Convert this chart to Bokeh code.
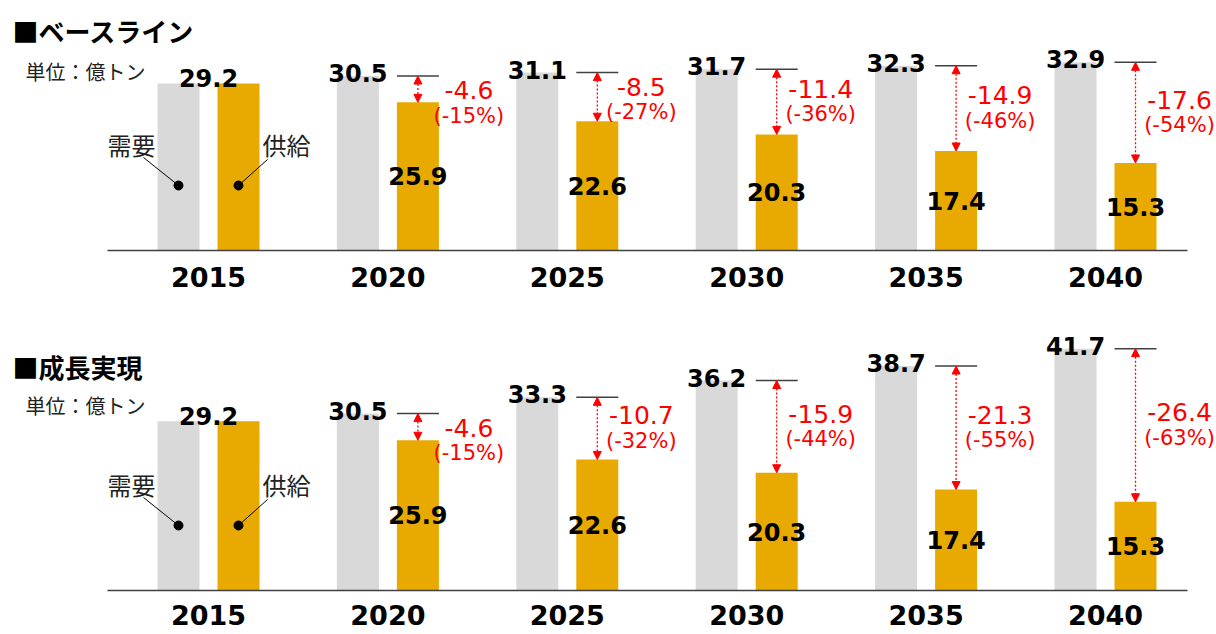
from bokeh.plotting import figure
from bokeh.layouts import column
from bokeh.models import ColumnDataSource, Range1d, Arrow, NormalHead
from bokeh.core.properties import value
from bokeh.embed import file_html
from bokeh.resources import INLINE

# ---------------- data ----------------
years = ["2015", "2020", "2025", "2030", "2035", "2040"]
unit_label = "単位：億トン"
demand_label = "需要"
supply_label = "供給"

base_title = "■ベースライン"
base_demand = [29.2, 30.5, 31.1, 31.7, 32.3, 32.9]
base_supply = [29.2, 25.9, 22.6, 20.3, 17.4, 15.3]
base_pct = [0, -15, -27, -36, -46, -54]

growth_title = "■成長実現"
growth_demand = [29.2, 30.5, 33.3, 36.2, 38.7, 41.7]
growth_supply = [29.2, 25.9, 22.6, 20.3, 17.4, 15.3]
growth_pct = [0, -15, -32, -44, -55, -63]

# ---------------- style ----------------
GRAY = "#D9D9D9"
GOLD = "#E8A900"
RED = "#FF0000"
INK = "#000000"
AXIS = "#404040"
NUM_FONT = value("DejaVu Sans")
JP_FONT = value("Noto Sans CJK JP")

W = 1214
GX = 179.4     # px per year group
X0 = 208       # px of first group centre from figure left
BAR = 42
OFF = 30


def make_panel(title, demand, supply, pct, H, B, s, title_y, unit_y, year_dy):
    px = lambda v: v / GX
    py = lambda v: v / s
    p = figure(width=W, height=H, output_backend="svg", toolbar_location=None,
               x_axis_location=None, y_axis_location=None, min_border=0,
               x_range=Range1d(-X0 / GX, (W - X0) / GX),
               y_range=Range1d(-(H - B) / s, B / s))
    p.outline_line_color = None
    p.grid.visible = False
    p.background_fill_color = "white"

    n = len(years)
    idx = list(range(n))
    src = ColumnDataSource(dict(
        x=idx, xd=[i - px(OFF) for i in idx], xs=[i + px(OFF) for i in idx],
        d=demand, s=supply, year=years))

    p.vbar(x="xd", top="d", width=px(BAR), source=src, fill_color=GRAY, line_color=None)
    p.vbar(x="xs", top="s", width=px(BAR), source=src, fill_color=GOLD, line_color=None)

    # baseline
    p.segment(x0=[-px(101)], y0=[0], x1=[n - 1 + px(82)], y1=[0],
              line_color=AXIS, line_width=1.5)

    # year labels
    p.text(x="x", y=-py(year_dy), text="year", source=src, text_font=NUM_FONT,
           text_font_style="bold", text_font_size="27px", text_color=INK,
           text_align="center", text_baseline="middle")

    dl = dict(x=[], y=[], t=[])
    sl = dict(x=[], y=[], t=[])
    gap = dict(x=[], d=[], s=[], x0=[], x1=[])
    rl = dict(x=[], y=[], t=[], py=[], pt=[])
    for i in idx:
        d, sp = demand[i], supply[i]
        if d == sp:
            dl["x"].append(i); dl["y"].append(d + py(5)); dl["t"].append(f"{d:.1f}")
            continue
        xs = i + px(OFF)
        dl["x"].append(i - px(OFF)); dl["y"].append(d + py(3)); dl["t"].append(f"{d:.1f}")
        sl["x"].append(xs); sl["y"].append(sp / 2); sl["t"].append(f"{sp:.1f}")
        gap["x"].append(xs); gap["d"].append(d); gap["s"].append(sp)
        gap["x0"].append(xs - px(BAR / 2)); gap["x1"].append(xs + px(BAR / 2))
        dpx = B - d * s
        spx = B - sp * s
        mid = (dpx + spx) / 2
        vy = max(mid - 13, dpx + 14)
        pcy = vy + 25.5
        xo = 51 if pcy + 9 > spx else 44
        rl["x"].append(xs + px(xo))
        rl["y"].append((B - vy) / s)
        rl["t"].append(f"-{d - sp:.1f}")
        rl["py"].append((B - pcy) / s)
        rl["pt"].append(f"({pct[i]}%)")

    p.text(x="x", y="y", text="t", source=ColumnDataSource(dl), text_font=NUM_FONT,
           text_font_style="bold", text_font_size="24px", text_color=INK,
           text_align="center", text_baseline="alphabetic")
    p.text(x="x", y="y", text="t", source=ColumnDataSource(sl), text_font=NUM_FONT,
           text_font_style="bold", text_font_size="24px", text_color=INK,
           text_align="center", text_baseline="middle")

    gsrc = ColumnDataSource(gap)
    p.segment(x0="x0", y0="d", x1="x1", y1="d", source=gsrc, line_color=AXIS, line_width=1.5)
    p.add_layout(Arrow(
        x_start="x", y_start="d", x_end="x", y_end="s", source=gsrc,
        line_color=RED, line_width=1.3, line_dash="2 2",
        start=NormalHead(size=8, fill_color=RED, line_color=RED, line_width=1),
        end=NormalHead(size=8, fill_color=RED, line_color=RED, line_width=1)))

    rsrc = ColumnDataSource(rl)
    p.text(x="x", y="y", text="t", source=rsrc, text_font=NUM_FONT,
           text_font_size="25px", text_color=RED,
           text_align="center", text_baseline="middle")
    p.text(x="x", y="py", text="pt", source=rsrc, text_font=NUM_FONT,
           text_font_size="21px", text_color=RED,
           text_align="center", text_baseline="middle")

    # titles
    p.text(x=[px(12 - X0)], y=[(B - title_y) / s], text=[title], text_font=JP_FONT,
           text_font_style="bold", text_font_size="26px", text_color=INK,
           text_align="left", text_baseline="middle")
    p.text(x=[px(25 - X0)], y=[(B - unit_y) / s], text=[unit_label], text_font=JP_FONT,
           text_font_size="20px", text_color="#222222",
           text_align="left", text_baseline="middle")

    # callouts on first group
    gx = 0 - px(OFF)
    ox = 0 + px(OFF)
    p.text(x=[gx - px(47), ox + px(48)], y=[py(106), py(106)],
           text=[demand_label, supply_label], text_font=JP_FONT,
           text_font_size="24px", text_color="#222222",
           text_align="center", text_baseline="middle")
    p.segment(x0=[gx - px(35), ox + px(29)], y0=[py(93), py(91)],
              x1=[gx, ox], y1=[py(65), py(65)], line_color=INK, line_width=1)
    p.scatter(x=[gx, ox], y=[py(65), py(65)], size=9, fill_color=INK, line_color=INK)
    return p


top = make_panel(base_title, base_demand, base_supply, base_pct,
                 H=316, B=250, s=5.72, title_y=30, unit_y=71, year_dy=26)
bot = make_panel(growth_title, growth_demand, growth_supply, growth_pct,
                 H=316, B=274, s=5.8, title_y=50, unit_y=89, year_dy=24)

layout = column(top, bot, spacing=0)
open("out.html", "w").write(file_html(layout, INLINE))
